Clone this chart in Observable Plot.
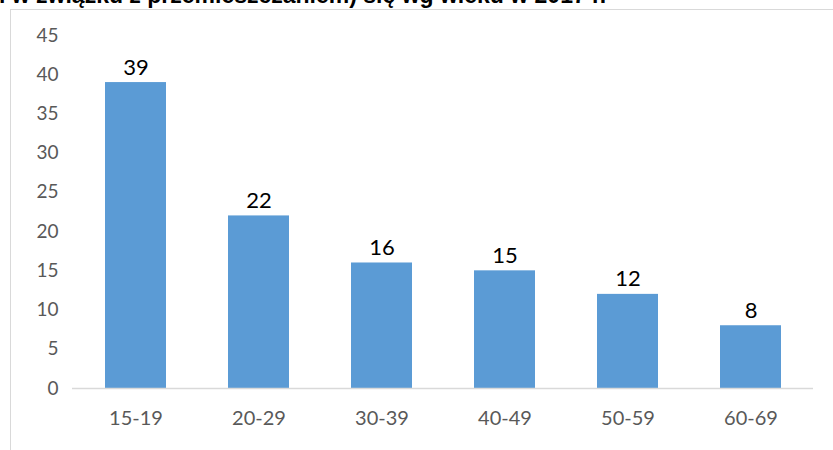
<!DOCTYPE html>
<html><head><meta charset="utf-8">
<script src="https://cdn.jsdelivr.net/npm/d3@7"></script>
<script src="https://cdn.jsdelivr.net/npm/@observablehq/plot@0.6"></script>
<style>
html,body{margin:0;padding:0;background:#fff;width:833px;height:450px;overflow:hidden;position:relative;}
#title{position:absolute;left:-1px;top:-18px;font:bold 23px "Liberation Sans",Arial,sans-serif;color:#000;white-space:nowrap;}
#frame{position:absolute;left:10px;top:9px;width:840px;height:460px;border-left:1px solid #d9d9d9;border-top:1px solid #d9d9d9;}
#chart{position:absolute;left:0;top:0;}
</style></head>
<body>
<div id="title">i w związku z przemieszczaniem) się wg wieku w 2017 r.</div>
<div id="frame"></div>
<div id="chart"></div>
<script>
const categories = ["15-19","20-29","30-39","40-49","50-59","60-69"];
const values = [39,22,16,15,12,8];
const yTicks = [0,5,10,15,20,25,30,35,40,45];
const data = categories.map((c,i)=>({cat:c, v:values[i]}));
const font = "Lato, 'Open Sans', sans-serif";
const chart = Plot.plot({
  width:833, height:450,
  marginLeft:72, marginRight:20, marginTop:35, marginBottom:62,
  style:{fontFamily:font, background:"transparent", overflow:"visible"},
  x:{domain:categories, paddingInner:0.505, paddingOuter:0.2525, label:null, tickSize:0},
  y:{domain:[0,45], label:null},
  marks:[
    Plot.barY(data,{x:"cat", y:"v", fill:"#5b9bd5"}),
    Plot.ruleY([0],{stroke:"#d9d9d9", strokeWidth:1.5}),
    Plot.axisY({ticks:yTicks, tickSize:0, tickPadding:14, fontSize:19, fill:"#595959", label:null}),
    Plot.axisX({tickSize:0, tickPadding:22, fontSize:20, fill:"#595959", label:null}),
    Plot.text(data,{x:"cat", y:"v", text:d=>String(d.v), dy:-15, fontSize:22, fill:"#000"})
  ]
});
document.getElementById("chart").appendChild(chart);
</script>
</body></html>
